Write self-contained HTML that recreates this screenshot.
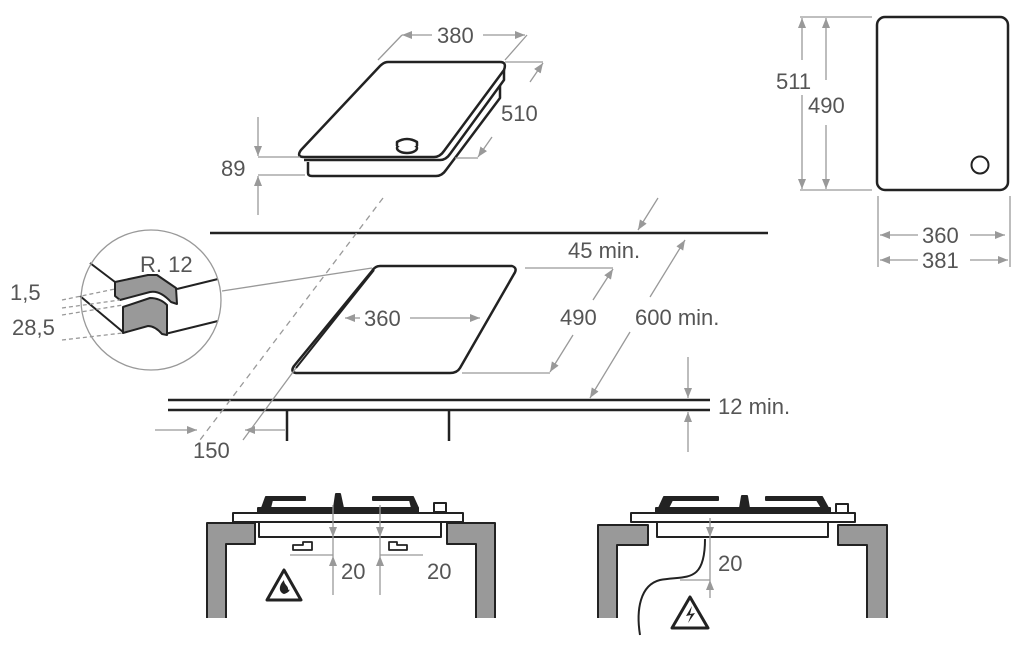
<!DOCTYPE html>
<html><head><meta charset="utf-8"><style>
html,body{margin:0;padding:0;background:#fff;}
svg{display:block;}
text{font-family:"Liberation Sans",sans-serif;fill:#555;font-size:22px;}
</style></head><body>
<svg width="1028" height="652" viewBox="0 0 1028 652" xmlns="http://www.w3.org/2000/svg">
<defs>
<marker id="a" viewBox="0 0 10 10" refX="10" refY="5" markerWidth="10" markerHeight="10" orient="auto-start-reverse" markerUnits="userSpaceOnUse"><path d="M0,1 L10,5 L0,9z" fill="#999"/></marker>
</defs>
<g stroke="#222" stroke-width="2.5" fill="#fff" stroke-linejoin="round">
<!-- top hob -->
<path d="M308,162 L308,173 Q308,176 312,176 L436,176 Q442,176 446,170 L500,98 L500,85"/>
<path d="M304,160 L440,160 Q446,160 450,154 L504,80 L504,70"/>
<path d="M388,62 L500,62 Q507,62 504,70 L444,151 Q440,157 434,157 L304,157 Q296,157 301,150 L380,66 Q384,62 388,62Z"/>
<ellipse cx="407" cy="148" rx="10" ry="5"/><path d="M397,146 L397,142 Q407,136 417,142 L417,146" />
<!-- lines -->
<line x1="210" y1="233" x2="768" y2="233"/>
<line x1="168" y1="400" x2="710" y2="400"/><line x1="168" y1="410" x2="710" y2="410"/>
<line x1="287" y1="410" x2="287" y2="441"/><line x1="449" y1="410" x2="449" y2="441"/>
<!-- cutout -->
<path d="M380,266 L512,266 Q518,268 514,274 L460,368 Q457,373 450,373 L296,373 Q290,372 294,366 L372,271 Q375,266 380,266Z"/>
<path d="M296,368 L374,270" fill="none" stroke-width="2"/>
<!-- right top view -->
<rect x="877" y="17" width="131" height="173" rx="8"/>
<circle cx="980" cy="165" r="8.5" stroke-width="2"/>
</g>
<!-- detail -->
<g stroke="#222" stroke-width="2" fill="none">
<path d="M90,263 L115,282"/><path d="M177,289 L218,279"/>
<path d="M80,296 L123,332"/><path d="M165,334 L218,321"/>
</g>
<g stroke="#222" stroke-width="2" fill="#999" stroke-linejoin="round">
<path d="M115,282 L148,275 L157,275 L176,288 L177,304 L171,302 Q160,290 150,292 L120,300 L115,296Z"/>
<path d="M123,307 L150,298 Q160,298 167,305 L167,335 L162,334 Q155,326 148,326 L123,333Z"/>
</g>
<!-- bottom left -->
<g stroke="#222" stroke-width="2" stroke-linejoin="round">
<path d="M207,618 L207,523 L255,523 L255,544 L226,544 L226,618" fill="#999"/>
<path d="M495,618 L495,523 L447,523 L447,544 L476,544 L476,618" fill="#999"/>
<rect x="233" y="513" width="230" height="9" fill="#fff"/>
<rect x="259" y="522" width="182" height="15" fill="#fff"/>
<path d="M258,513 L258,508 L418,508 L418,513Z" fill="#222"/>
<path d="M262,508 L266,497 L305,497 L305,500 L272,500 L270,508Z" fill="#222"/>
<path d="M373,497 L413,497 L418,508 L412,508 L410,500 L373,500Z" fill="#222"/>
<path d="M334,508 L336,494 L340,494 L343,508Z" fill="#222"/>
<rect x="434" y="503" width="12" height="9" fill="#fff"/>
<path d="M293,545 L303,545 L303,542 L312,542 L312,550 L303,550 L293,550Z" fill="#fff" stroke-width="1.8"/>
<path d="M407,545 L397,545 L397,542 L389,542 L389,550 L397,550 L407,550Z" fill="#fff" stroke-width="1.8"/>
</g>
<!-- bottom right -->
<g stroke="#222" stroke-width="2" stroke-linejoin="round">
<path d="M598,618 L598,525 L648,525 L648,545 L617,545 L617,618" fill="#999"/>
<path d="M887,618 L887,525 L838,525 L838,545 L867,545 L867,618" fill="#999"/>
<rect x="631" y="513" width="224" height="9" fill="#fff"/>
<rect x="657" y="522" width="171" height="15" fill="#fff"/>
<path d="M656,513 L656,508 L830,508 L830,513Z" fill="#222"/>
<path d="M659,508 L664,497 L718,497 L718,500 L672,500 L668,508Z" fill="#222"/>
<path d="M766,497 L822,497 L828,508 L822,508 L817,500 L766,500Z" fill="#222"/>
<path d="M740,508 L742,496 L747,496 L749,508Z" fill="#222"/>
<rect x="836" y="504" width="12" height="9" fill="#fff"/>
<path d="M705,539 C705,585 685,575 660,580 C640,585 636,610 640,635" fill="none"/>
</g>
<g stroke="#999" stroke-width="1.3" fill="none">
<!-- top hob dims -->
<line x1="378" y1="60" x2="402" y2="35"/><line x1="505" y1="60" x2="527" y2="35"/>
<line x1="432" y1="35" x2="402" y2="35" marker-end="url(#a)"/><line x1="483" y1="35" x2="525" y2="35" marker-end="url(#a)"/>
<line x1="505" y1="62" x2="543" y2="62"/><line x1="455" y1="158" x2="478" y2="158"/>
<line x1="530" y1="82" x2="543" y2="63" marker-end="url(#a)"/><line x1="492" y1="137" x2="478" y2="157" marker-end="url(#a)"/>
<line x1="258" y1="157" x2="300" y2="157"/><line x1="258" y1="175" x2="305" y2="175"/>
<line x1="258" y1="117" x2="258" y2="156" marker-end="url(#a)"/><line x1="258" y1="215" x2="258" y2="176" marker-end="url(#a)"/>
<!-- middle -->
<line x1="383" y1="198" x2="200" y2="440" stroke-dasharray="6,5"/>
<line x1="296" y1="368" x2="243" y2="440"/>
<line x1="222" y1="291" x2="372" y2="268"/>
<line x1="658" y1="198" x2="638" y2="230" marker-end="url(#a)"/>
<line x1="525" y1="268" x2="613" y2="268"/><line x1="462" y1="373" x2="550" y2="373"/>
<line x1="593" y1="300" x2="613" y2="269" marker-end="url(#a)"/><line x1="573" y1="335" x2="550" y2="372" marker-end="url(#a)"/>
<line x1="650" y1="297" x2="685" y2="240" marker-end="url(#a)"/><line x1="630" y1="332" x2="590" y2="398" marker-end="url(#a)"/>
<line x1="360" y1="318" x2="345" y2="318" marker-end="url(#a)"/><line x1="410" y1="318" x2="480" y2="318" marker-end="url(#a)"/>
<line x1="688" y1="357" x2="688" y2="398" marker-end="url(#a)"/><line x1="688" y1="452" x2="688" y2="412" marker-end="url(#a)"/>
<line x1="155" y1="430" x2="197" y2="430" marker-end="url(#a)"/><line x1="285" y1="430" x2="245" y2="430" marker-end="url(#a)"/>
<circle cx="151" cy="300" r="70"/>
<!-- right top view dims -->
<line x1="800" y1="17" x2="872" y2="17"/><line x1="800" y1="190" x2="872" y2="190"/>
<line x1="802" y1="60" x2="802" y2="18" marker-end="url(#a)"/><line x1="802" y1="95" x2="802" y2="189" marker-end="url(#a)"/>
<line x1="826" y1="80" x2="826" y2="18" marker-end="url(#a)"/><line x1="826" y1="125" x2="826" y2="189" marker-end="url(#a)"/>
<line x1="878" y1="196" x2="878" y2="267"/><line x1="1010" y1="196" x2="1010" y2="267"/>
<line x1="918" y1="235" x2="880" y2="235" marker-end="url(#a)"/><line x1="970" y1="235" x2="1005" y2="235" marker-end="url(#a)"/>
<line x1="918" y1="260" x2="880" y2="260" marker-end="url(#a)"/><line x1="970" y1="260" x2="1008" y2="260" marker-end="url(#a)"/>
<!-- detail dashes -->
<g stroke-dasharray="4,3">
<line x1="62" y1="300" x2="115" y2="289"/><line x1="62" y1="308" x2="120" y2="300"/>
<line x1="62" y1="315" x2="123" y2="305"/><line x1="62" y1="340" x2="123" y2="333"/>
</g>
<!-- bottom arrows -->
<line x1="333" y1="505" x2="333" y2="537" marker-end="url(#a)"/><line x1="333" y1="595" x2="333" y2="556" marker-end="url(#a)"/>
<line x1="333" y1="537" x2="333" y2="556"/><line x1="380" y1="537" x2="380" y2="556"/>
<line x1="380" y1="505" x2="380" y2="537" marker-end="url(#a)"/><line x1="380" y1="595" x2="380" y2="556" marker-end="url(#a)"/>
<line x1="290" y1="555" x2="333" y2="555"/><line x1="380" y1="555" x2="423" y2="555"/>
<line x1="710" y1="518" x2="710" y2="537" marker-end="url(#a)"/><line x1="710" y1="598" x2="710" y2="580" marker-end="url(#a)"/>
<line x1="710" y1="537" x2="710" y2="580"/><line x1="680" y1="580" x2="710" y2="580"/>
</g>
<!-- warning signs -->
<g stroke="#222" stroke-width="3" fill="#fff" stroke-linejoin="round">
<path d="M284,570 L301,600 L267,600Z"/>
<path d="M690,597 L708,628 L672,628Z"/>
</g>
<path d="M284,594 C278,592 279,585 284,580 C284,585 289,586 288,590 C290,588 291,592 284,594Z" fill="#222"/>
<path d="M692,606 L686,616 L691,615 L688,623 L695,613 L690,614Z" fill="#222"/>
<!-- texts -->
<text x="437" y="43">380</text>
<text x="501" y="121">510</text>
<text x="221" y="176">89</text>
<text x="140" y="272">R. 12</text>
<text x="10" y="300">1,5</text>
<text x="12" y="335">28,5</text>
<text x="364" y="326">360</text>
<text x="568" y="258">45 min.</text>
<text x="560" y="325">490</text>
<text x="635" y="325">600 min.</text>
<text x="718" y="414">12 min.</text>
<text x="193" y="458">150</text>
<text x="776" y="89">511</text>
<text x="808" y="113">490</text>
<text x="922" y="243">360</text>
<text x="922" y="268">381</text>
<text x="341" y="579">20</text>
<text x="427" y="579">20</text>
<text x="718" y="571">20</text>
</svg>
</body></html>
